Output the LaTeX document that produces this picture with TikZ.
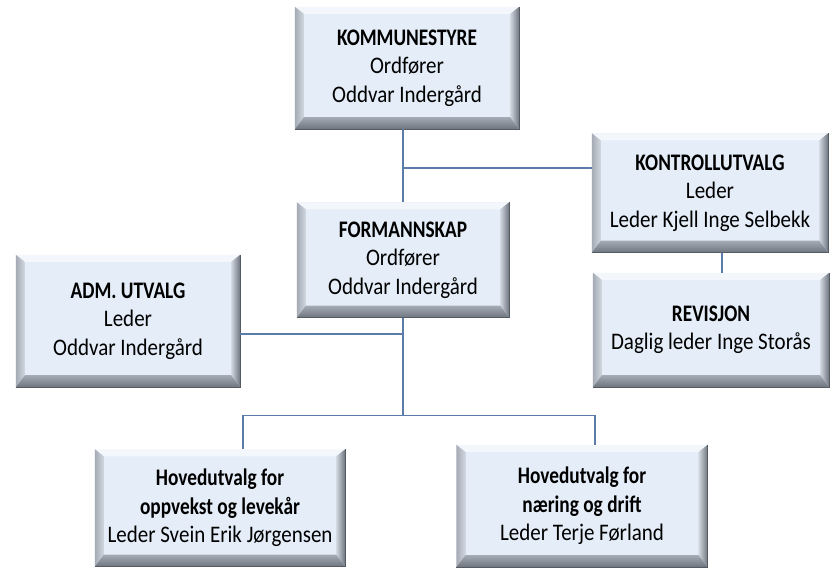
\documentclass[tikz,border=0pt]{standalone}
\usepackage{fontspec}
\usepackage{graphicx}
\setmainfont{Carlito}
\usetikzlibrary{positioning}
\usetikzlibrary{calc}

\definecolor{boxface}{HTML}{E4EDF8}
\definecolor{bevtop}{HTML}{F3F7FB}
\definecolor{bevlight}{HTML}{D2D8E0}
\definecolor{bevmid}{HTML}{A4ABB4}
\definecolor{bevdark}{HTML}{6E757E}
\definecolor{bevedge}{HTML}{555B63}
\definecolor{linkblue}{HTML}{5B7CA8}

\newcommand{\orghead}[1]{\scalebox{0.92}[1.13]{\textbf{#1}}}
\newcommand{\orgtext}[1]{\scalebox{1}[1.13]{#1}}

\tikzset{
orgbox/.style={draw=none,fill=boxface,align=center,inner sep=0pt,font=\fontsize{21}{28.5}\selectfont},
orgline/.style={draw=linkblue,line width=1.3pt}
}

\begin{document}
\begin{tikzpicture}[x=1pt,y=-1pt]
\useasboundingbox[fill=white] (0,0) rectangle (838,572);

\node[orgbox,minimum width=224,minimum height=122] (kommune) at (407,68) {\orghead{KOMMUNESTYRE}\\\orgtext{Ordfører}\\\orgtext{Oddvar Indergård}};
\node[orgbox,minimum width=212,minimum height=115] (formann) at (403,260) {\orghead{FORMANNSKAP}\\\orgtext{Ordfører}\\\orgtext{Oddvar Indergård}};
\node[orgbox,minimum width=236,minimum height=119] (kontroll) at (710,193) {\orghead{KONTROLLUTVALG}\\\orgtext{Leder}\\\orgtext{Leder Kjell Inge Selbekk}};
\node[orgbox,minimum width=236,minimum height=114] (revisjon) at (711,330) {\orghead{REVISJON}\\\orgtext{Daglig leder Inge Storås}};
\node[orgbox,minimum width=224,minimum height=132] (adm) at (128,321) {\orghead{ADM. UTVALG}\\\orgtext{Leder}\\\orgtext{Oddvar Indergård}};
\node[orgbox,minimum width=250,minimum height=117] (hoved1) at (220,508) {\orghead{Hovedutvalg for}\\\orghead{oppvekst og levekår}\\\orgtext{Leder Svein Erik Jørgensen}};
\node[orgbox,minimum width=251,minimum height=122] (hoved2) at (582,506) {\orghead{Hovedutvalg for}\\\orghead{næring og drift}\\\orgtext{Leder Terje Førland}};

% bevelled edges
\foreach \n in {kommune,formann,kontroll,revisjon,adm,hoved1,hoved2} {
\fill[bevtop] (\n.north west) -- (\n.north east) -- ([shift={(-9,7)}]\n.north east) -- ([shift={(9,7)}]\n.north west) -- cycle;
\shade[left color=bevmid,right color=bevlight] (\n.north west) -- ([shift={(9,7)}]\n.north west) -- ([shift={(9,-12)}]\n.south west) -- (\n.south west) -- cycle;
\shade[left color=bevlight,right color=bevdark] (\n.north east) -- ([shift={(-9,7)}]\n.north east) -- ([shift={(-9,-12)}]\n.south east) -- (\n.south east) -- cycle;
\shade[top color=bevmid,bottom color=bevdark] (\n.south west) -- (\n.south east) -- ([shift={(-9,-12)}]\n.south east) -- ([shift={(9,-12)}]\n.south west) -- cycle;
\draw[bevedge,line width=0.8pt] (\n.north east) -- (\n.south east) -- (\n.south west);
}

% connectors
\coordinate (kjunc) at ([shift={(0,-25)}]kontroll.west);
\coordinate (ajunc) at ([shift={(0,13)}]adm.east);
\coordinate (bus) at ([shift={(0,98)}]formann.south);
\coordinate (h1top) at ([shift={(23,0)}]hoved1.north);
\coordinate (h2top) at ([shift={(13,0)}]hoved2.north);
\coordinate (krev) at ([shift={(12,0)}]kontroll.south);

\draw[orgline] (kommune.south -| formann.north) -- (formann.north);
\draw[orgline] (kjunc) -- (kjunc -| formann.north);
\draw[orgline] (krev) -- (krev |- revisjon.north);
\draw[orgline] (ajunc) -- (ajunc -| formann.south);
\draw[orgline] (formann.south) -- (bus);
\draw[orgline] (h1top) -- (h1top |- bus) -- (h2top |- bus) -- (h2top);

\end{tikzpicture}
\end{document}
